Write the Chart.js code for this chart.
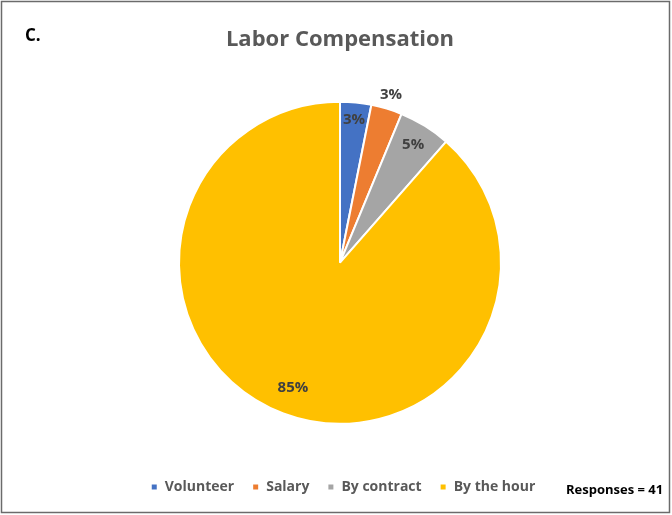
<!DOCTYPE html>
<html>
<head>
<meta charset="utf-8">
<script src="https://cdn.jsdelivr.net/npm/chart.js@4"></script>
<style>
  html, body { margin: 0; padding: 0; background: #fff; }
  #wrap { width: 672px; height: 515px; position: relative; }
</style>
</head>
<body>
<div id="wrap"><canvas id="c" width="672" height="515"></canvas></div>
<script>
// Labor compensation survey: share of respondents by pay type
const categories = ['Volunteer', 'Salary', 'By contract', 'By the hour'];
const shares = [3, 3, 5, 85];
const sliceColors = ['#4472C4', '#ED7D31', '#A5A5A5', '#FFC000'];
const chartTitle = 'Labor Compensation';
const panelTag = 'C.';
const responsesNote = 'Responses = 41';

// radial placement of each percentage label, as a fraction of the radius
const labelRadius = [0.89, 1.09, 0.86, 0.83];

const FONT = "'Open Sans', 'Liberation Sans', sans-serif";

const decorations = {
  id: 'decorations',
  beforeDraw(chart) {
    const ctx = chart.ctx;
    ctx.save();
    ctx.fillStyle = '#ffffff';
    ctx.fillRect(0, 0, chart.width, chart.height);
    ctx.restore();
  },
  afterLayout(chart) {
    // nudge the legend row a little to the right of the pie's centre line
    chart.legend.left += 3;
    chart.legend.right += 3;
  },
  afterDraw(chart) {
    const ctx = chart.ctx;
    ctx.save();
    // frame
    ctx.strokeStyle = '#6b6b6b';
    ctx.lineWidth = 1.5;
    ctx.strokeRect(1.5, 1.5, chart.width - 4, chart.height - 4);
    // panel tag
    ctx.fillStyle = '#000000';
    ctx.font = 'bold 17px ' + FONT;
    ctx.textBaseline = 'middle';
    ctx.textAlign = 'left';
    ctx.fillText(panelTag, 25, 36);
    // responses note
    ctx.font = 'bold 13px ' + FONT;
    ctx.fillText(responsesNote, 566, 490);
    // percentage labels
    const meta = chart.getDatasetMeta(0);
    ctx.font = 'bold 15px ' + FONT;
    ctx.fillStyle = '#404040';
    ctx.textAlign = 'center';
    meta.data.forEach((arc, i) => {
      const mid = (arc.startAngle + arc.endAngle) / 2;
      const r = arc.outerRadius * labelRadius[i];
      const x = arc.x + Math.cos(mid) * r;
      const y = arc.y + Math.sin(mid) * r;
      ctx.fillText(shares[i] + '%', x, y);
    });
    ctx.restore();
  }
};

new Chart(document.getElementById('c'), {
  type: 'pie',
  data: {
    labels: categories,
    datasets: [{
      data: shares,
      backgroundColor: sliceColors,
      borderColor: '#ffffff',
      borderWidth: 2,
      radius: 161
    }]
  },
  options: {
    responsive: false,
    animation: false,
    layout: { padding: { left: 8, right: 0, top: 0, bottom: 11 } },
    plugins: {
      title: {
        display: true,
        text: chartTitle,
        color: '#595959',
        font: { family: FONT, size: 22, weight: 'bold' },
        padding: { top: 27, bottom: 10 }
      },
      legend: {
        position: 'bottom',
        labels: {
          boxWidth: 7,
          boxHeight: 7,
          padding: 18,
          color: '#595959',
          font: { family: FONT, size: 14, weight: 'bold' }
        }
      },
      tooltip: { enabled: false }
    }
  },
  plugins: [decorations]
});
</script>
</body>
</html>
